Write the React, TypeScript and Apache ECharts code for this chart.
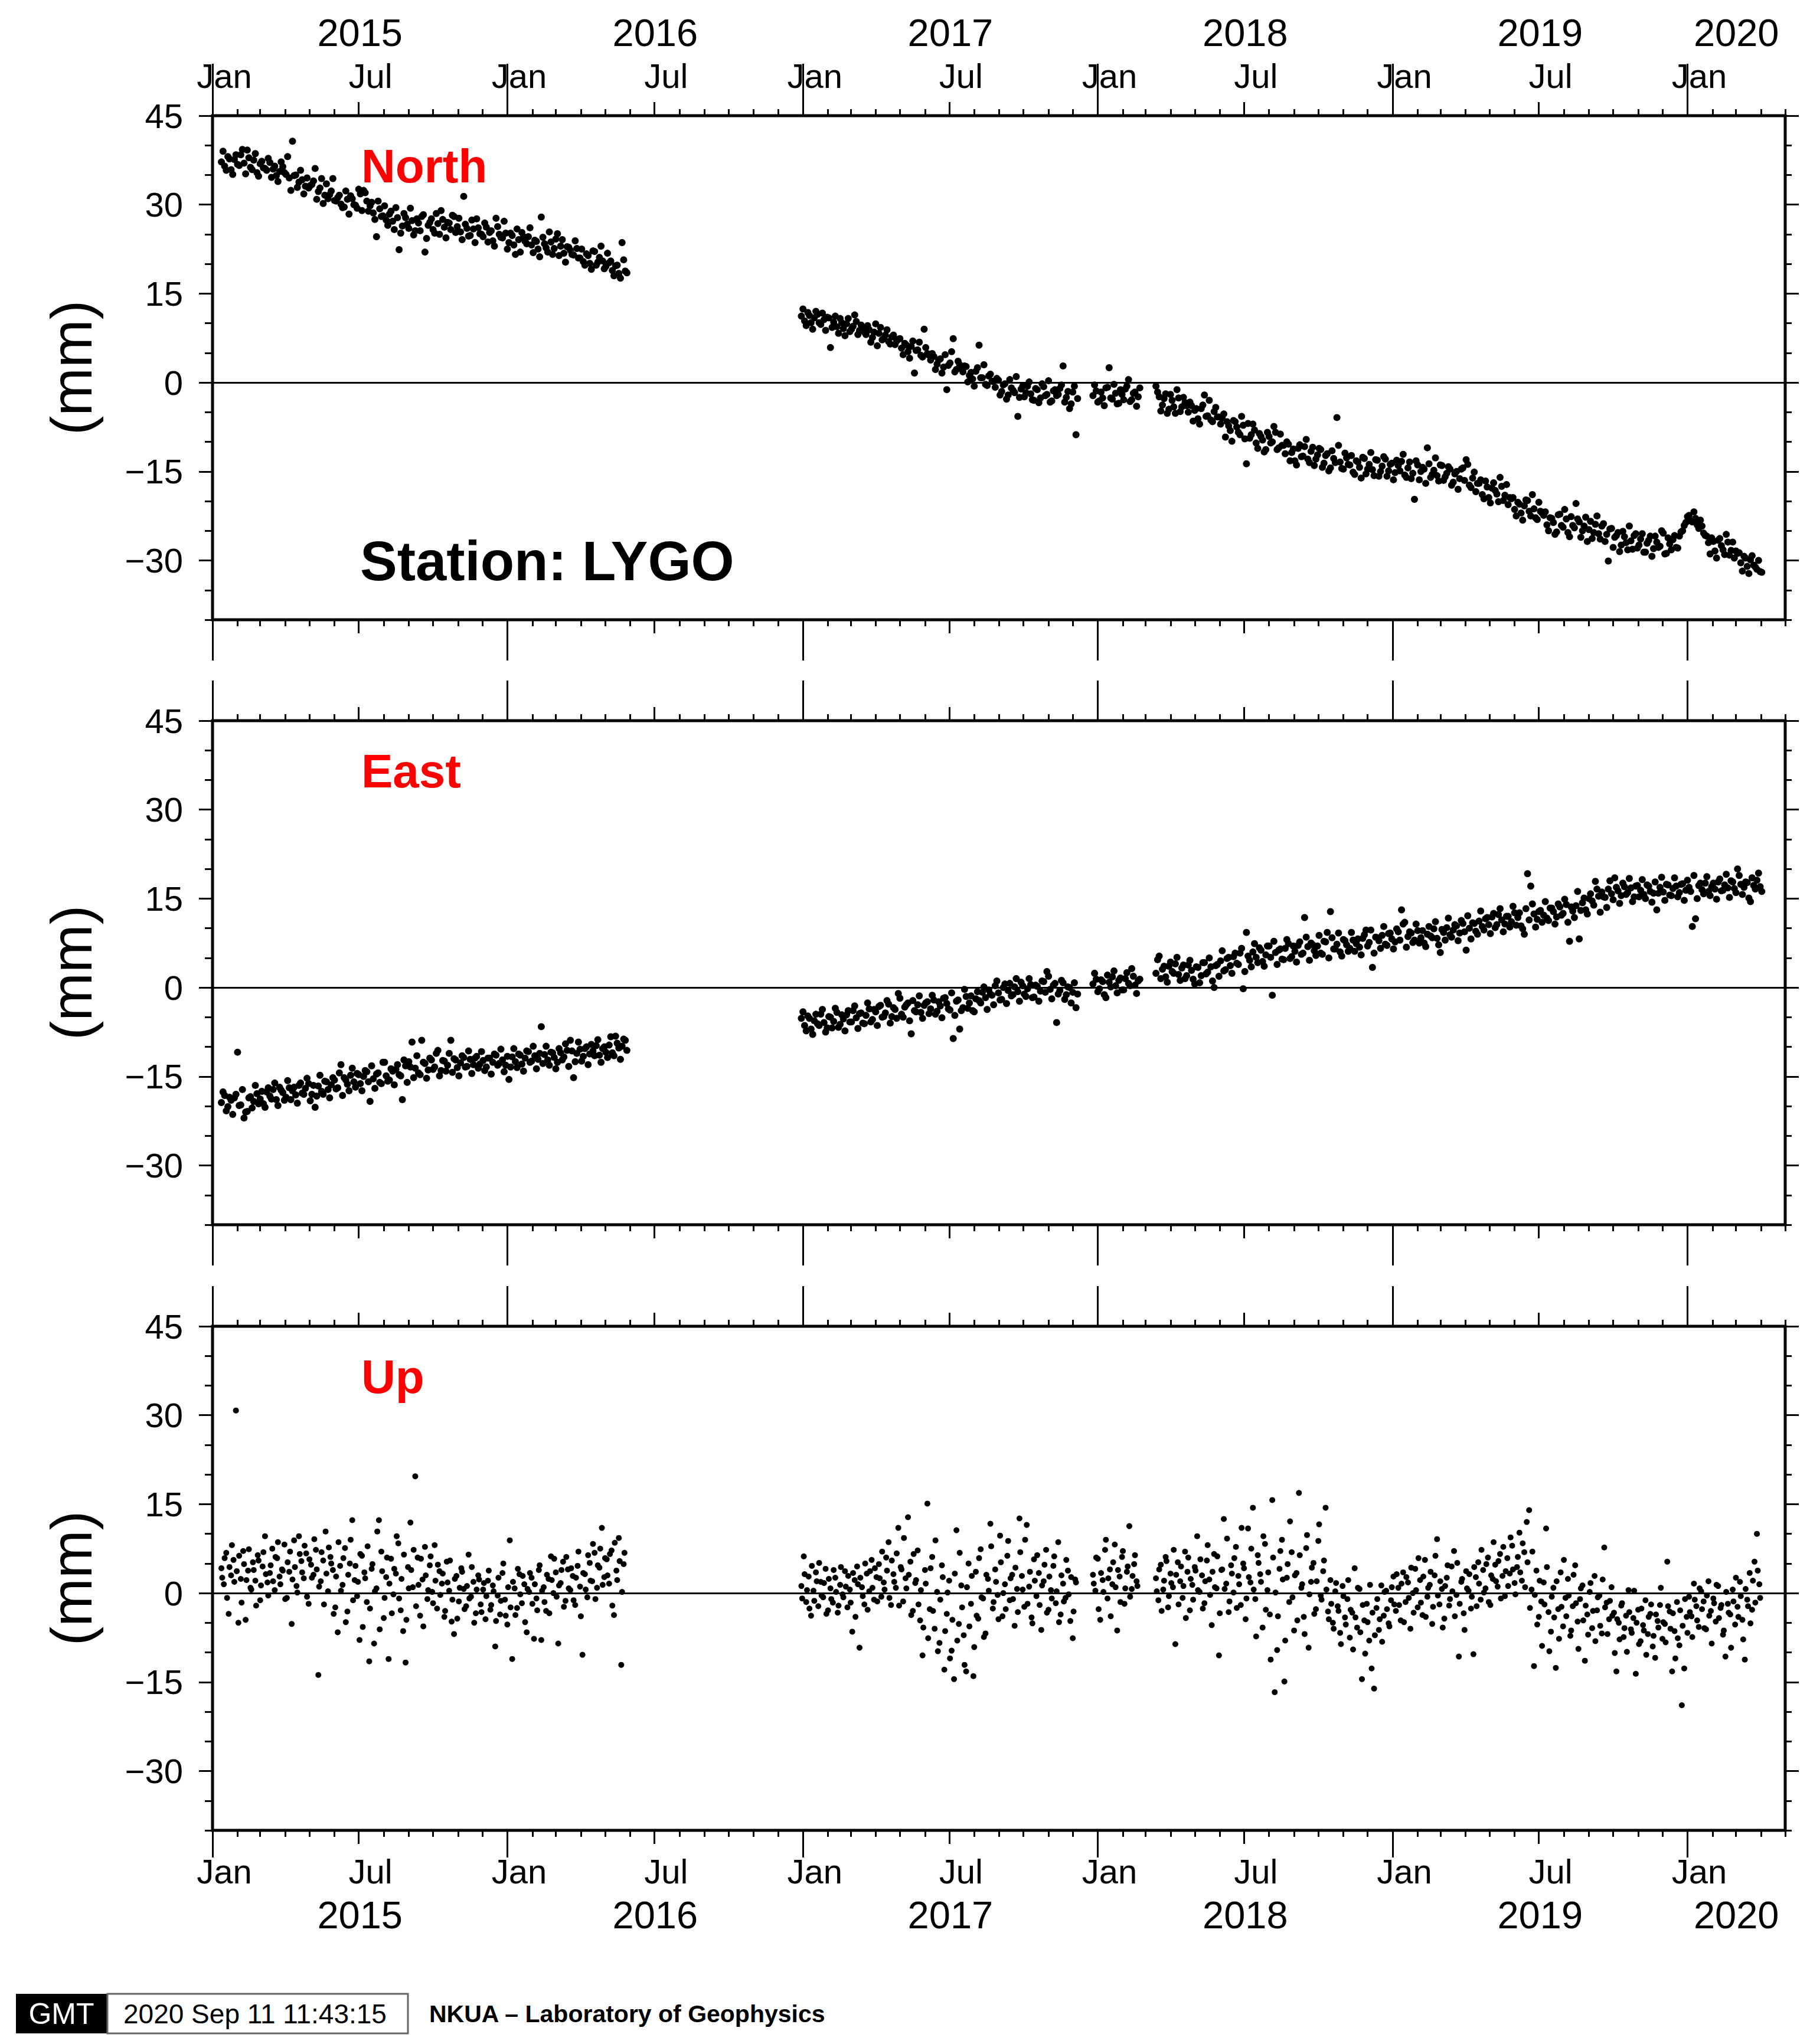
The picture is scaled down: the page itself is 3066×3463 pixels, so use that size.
import React, { useEffect, useRef } from 'react';
import * as echarts from 'echarts';

const W = 3066;
const H = 3463;
const GRID_LEFT = 360;
const GRID_RIGHT = 42;
const GRID_H = 854;
const GRID_TOPS = [196, 1221, 2247];

const T_MIN = Date.UTC(2015, 0, 1);
const T_MAX = Date.UTC(2020, 4, 1);
const DAY = 86400000;

const YEARS = [2015, 2016, 2017, 2018, 2019, 2020];
const MONTH_NAMES = ['Jan', 'Feb', 'Mar', 'Apr', 'May', 'Jun', 'Jul', 'Aug', 'Sep', 'Oct', 'Nov', 'Dec'];
const Y_MAJOR = [-30, -15, 0, 15, 30, 45];
const PANEL_TITLES = ['North', 'East', 'Up'];
const STATION = 'Station: LYGO';
const Y_NAME = '(mm)';
const STAMP = '2020 Sep 11 11:43:15';
const CREDIT = 'NKUA \u2013 Laboratory of Geophysics';

// segment start dates of the daily solutions; each component is stored as two
// interleaved sample sets (set "b" is offset by a couple of days)
const SEG_STARTS = ['2015-01-12', '2016-12-30', '2017-12-26', '2018-03-14'];
const STEP_NE = 4;
const OFFSET_NE = 2;
const STEP_UP = 3;
const OFFSET_UP = 1;

// ---------------- North (mm) ----------------
const northA = [
  37.2, 36.5, 38.1, 35.9, 37.6, 36.8, 38.4, 37.0, 39.2, 36.3, 37.5, 35.4, 36.9, 36.2,
  35.8, 37.1, 36.0, 34.9, 35.6, 36.4, 35.1, 34.5, 40.7, 35.0, 33.8, 34.2, 33.1, 32.8,
  33.4, 36.1, 32.2, 34.4, 31.6, 31.0, 32.3, 30.7, 31.2, 30.1, 29.6, 30.9, 31.5, 30.0, 29.4, 31.8,
  32.4, 30.6, 29.8, 28.6, 24.6, 29.3, 28.1, 27.4, 28.4, 27.2, 29.5, 22.4, 26.4, 27.8, 26.0,
  27.3, 25.6, 26.9, 28.0, 22.0, 26.5, 27.6, 25.2, 26.8, 29.0, 26.2, 27.0, 25.8, 28.0, 26.3,
  25.4, 31.4, 26.0, 24.8, 25.9, 27.6, 25.1, 24.6, 26.2, 25.3, 23.9, 27.7, 25.0, 24.4,
  25.2, 23.6, 24.8, 21.6, 24.1, 25.3, 23.8, 24.6, 23.2, 24.0, 22.5, 27.9, 23.4, 22.0, 23.7, 22.6,
  25.1, 23.0, 21.8, 22.9, 22.3, 21.5, 22.6, 21.0, 20.4, 21.7, 20.1, 22.2, 19.8, 21.1, 20.5, 19.6,
  20.2, 18.9, 19.7, 18.4, 23.6, 18.8,
];
const northA_b = [
  39.0, 35.8, 37.7, 35.1, 38.4, 36.6, 39.3, 35.2, 37.9, 35.9, 38.6, 34.8, 37.3, 36.1,
  37.8, 34.6, 36.5, 33.9, 37.2, 35.4, 38.1, 32.4, 34.9, 32.9, 35.8, 31.8, 34.5, 33.2,
  34.0, 30.9, 32.8, 30.2, 33.5, 31.7, 34.4, 30.6, 31.6, 29.5, 32.3, 28.4, 31.0, 29.9, 32.6, 29.0,
  32.0, 28.9, 30.4, 27.5, 30.6, 28.0, 29.8, 26.5, 28.9, 25.8, 27.8, 25.2, 28.5, 26.7, 29.4,
  24.9, 27.6, 25.6, 28.3, 24.3, 27.0, 25.8, 28.5, 25.0, 27.5, 24.4, 26.9, 28.2, 25.3, 27.7,
  24.1, 26.7, 24.7, 27.4, 23.6, 26.1, 25.0, 26.9, 23.7, 25.6, 23.0, 26.3, 24.5, 27.2,
  22.5, 25.2, 23.2, 25.9, 22.0, 24.6, 23.4, 26.1, 21.9, 23.8, 21.2, 24.5, 22.7, 25.4, 21.6, 24.2,
  21.4, 24.1, 20.3, 22.8, 21.6, 23.9, 21.0, 22.5, 19.8, 21.4, 19.1, 22.1, 20.3, 23.0, 19.2, 21.8,
  20.5, 18.0, 19.8, 17.6, 20.7, 18.5,
];
const northB1 = [
  11.2, 10.4, 11.8, 10.1, 10.9, 11.5, 9.8, 10.6, 11.0, 5.9, 10.2, 9.4, 10.8, 9.1, 9.9, 8.6, 9.5, 10.3, 8.8, 9.2,
  8.1, 8.9, 7.6, 9.9, 8.3, 7.2, 8.0, 6.9, 7.7, 6.4, 7.3, 5.8, 6.6, 5.2, 6.1, 1.6, 5.5, 4.6, 9.0, 4.9,
  3.8, 4.4, 3.1, 4.0, 2.6, -1.2, 3.3, 7.4, 2.2, 3.0, 1.8, 2.7, 1.2, 0.6, 1.9, 6.3, 0.8, -0.3, 1.1, 0.2,
  -0.8, 0.4, -1.5, -0.2, -2.1, -0.9, -1.7, -5.7, -1.1, -2.4, -0.6, -1.9, -3.0, -1.2, -2.6, -0.7, -2.0, -3.3, -1.4, -2.2,
  -1.0, 2.8, -2.5, -4.4, -1.6, -8.8,
];
const northB1_b = [
  12.4, 9.6, 11.3, 9.0, 12.0, 10.1, 11.7, 8.8, 10.9, 9.3, 11.2, 8.3, 10.1, 7.9, 10.8, 9.0, 11.4, 8.1, 9.7, 8.5,
  9.6, 6.8, 8.5, 6.2, 9.3, 7.4, 8.9, 6.5, 8.0, 7.0, 7.4, 4.7, 6.3, 4.1, 7.0, 5.4, 6.8, 4.3, 5.9, 4.6,
  4.9, 2.2, 3.8, 1.6, 4.7, 2.9, 5.2, 1.8, 3.6, 2.4, 2.8, 0.1, 1.7, -0.6, 2.5, 0.8, 3.0, -0.5, 1.4, 0.2,
  0.7, -2.1, -0.4, -2.8, 0.5, -1.3, 1.0, -2.5, -0.6, -1.7, 0.1, -2.9, -1.0, -3.4, -0.2, -2.2, 0.3, -3.1, -1.2, -2.0,
  -0.4, -3.3, -1.5, -3.6, -0.6, -2.7,
];
const northB2 = [-2.2, -1.4, -3.1, -2.6, -0.9, 2.5, -2.8, -1.8, -3.5, -2.0, -1.1, 0.5, -2.9, -1.6, -2.4];
const northB2_b = [-0.4, -3.3, -1.6, -3.9, -0.8, -2.6, -0.3, -3.6, -1.2, -2.9, -0.6, -3.2, -1.8, -4.0, -0.9];
const northB3 = [
  -0.6, -2.4, -3.8, -1.9, -4.5, -3.0, -5.2, -2.6, -4.1, -3.4, -5.0, -3.9, -4.7, -6.1, -4.4, -2.1, -5.6, -6.3, -4.9, -5.8,
  -7.0, -5.3, -6.6, -8.1, -6.4, -7.5, -8.8, -7.2, -13.7, -9.4, -7.0, -10.2, -8.6, -9.7, -11.3, -9.1, -10.0, -8.4, -11.0, -10.6,
  -12.0, -10.4, -11.8, -13.2, -11.1, -12.5, -10.8, -12.9, -11.6, -14.0, -12.2, -11.3, -13.6, -12.0, -14.4, -12.8, -5.9, -13.4, -14.6, -12.7,
  -13.9, -15.1, -13.2, -14.3, -12.6, -15.4, -13.8, -14.7, -13.0, -15.8, -14.1, -12.9, -14.9, -13.6, -15.2, -14.0, -13.3, -15.6, -14.4, -16.2,
  -19.7, -13.9, -15.0, -14.6, -11.0, -16.0, -14.8, -15.7, -13.9, -16.5, -15.3, -14.6, -16.8, -15.0, -16.2, -14.4, -13.0, -17.3, -16.1, -18.4,
  -17.0, -18.9, -16.6, -19.4, -17.8, -18.2, -20.1, -17.5, -19.0, -20.6, -19.6, -21.4, -20.2, -22.0, -20.8, -19.9, -22.5, -21.3, -23.1, -21.7,
  -22.4, -24.0, -22.8, -23.6, -25.2, -22.2, -24.4, -23.0, -26.0, -24.1, -20.4, -23.5, -25.0, -22.7, -24.8, -26.3, -23.9, -25.5, -24.2, -26.8,
  -30.1, -24.6, -26.1, -25.3, -27.4, -26.0, -28.2, -26.7, -25.8, -27.9, -26.4, -28.6, -27.1, -25.9, -28.0, -26.9, -27.6, -25.4, -28.8, -27.2,
  -26.5, -27.8, -25.9, -25.0, -23.6, -22.4, -23.5, -22.9, -24.6, -24.2, -25.8, -27.0, -26.2, -28.4, -26.6, -27.5, -29.0, -26.9, -28.3, -29.6,
  -28.8, -30.4, -29.3, -31.0, -29.9, -30.8, -31.5, -31.9,
];
const northB3_b = [
  -1.6, -4.8, -2.7, -5.2, -2.0, -4.1, -1.2, -4.9, -2.5, -3.9, -3.3, -6.5, -4.4, -7.0, -3.8, -5.7, -3.0, -6.6, -4.2, -5.8,
  -6.0, -9.2, -7.3, -9.9, -6.6, -8.4, -5.7, -9.5, -6.9, -8.8, -8.0, -11.1, -9.1, -11.7, -8.4, -10.2, -7.4, -11.3, -8.7, -10.6,
  -10.0, -13.2, -11.2, -13.9, -10.5, -12.4, -9.6, -13.5, -10.9, -12.9, -11.1, -14.3, -12.3, -14.9, -11.5, -13.5, -10.6, -14.5, -11.9, -13.8,
  -12.3, -15.5, -13.4, -16.1, -12.8, -14.6, -11.8, -15.7, -13.1, -15.0, -12.5, -15.8, -13.8, -16.4, -13.1, -14.9, -12.1, -16.0, -13.4, -15.3,
  -13.2, -16.4, -14.3, -17.0, -13.7, -15.5, -12.7, -16.6, -14.0, -15.9, -14.2, -17.3, -15.4, -18.0, -14.6, -16.5, -13.8, -17.7, -15.1, -17.0,
  -16.4, -19.6, -17.6, -20.3, -16.9, -18.8, -16.0, -19.9, -17.2, -19.4, -19.4, -22.5, -20.5, -23.2, -19.8, -21.7, -18.9, -22.8, -20.2, -22.0,
  -21.8, -25.0, -22.9, -25.6, -22.3, -24.1, -21.4, -25.3, -22.6, -24.5, -23.0, -26.1, -24.2, -26.8, -23.4, -25.3, -22.5, -26.4, -23.8, -25.6,
  -24.7, -27.8, -25.8, -28.5, -25.1, -27.0, -24.2, -28.1, -25.5, -27.4, -25.5, -28.6, -26.6, -29.3, -25.9, -27.8, -25.0, -28.9, -26.2, -28.2,
  -25.8, -27.9, -25.2, -24.1, -22.6, -23.3, -21.8, -24.0, -23.2, -25.4, -25.9, -28.9, -26.8, -29.6, -26.3, -28.2, -25.6, -29.1, -26.9, -28.4,
  -28.7, -31.8, -29.6, -32.2, -29.2, -31.1, -30.0, -32.0,
];

// ---------------- East (mm) ----------------
const eastA = [
  -19.4, -18.2, -20.1, -19.0, -18.6, -10.9, -19.8, -22.0, -20.9, -18.4, -19.2, -17.9, -18.8, -19.6, -17.6, -18.3, -17.2, -18.9, -16.8, -17.7,
  -18.5, -16.9, -17.4, -18.1, -16.5, -17.8, -17.0, -16.2, -18.0, -20.2, -16.6, -17.5, -15.8, -17.2, -16.4, -15.6, -16.9, -13.0, -15.2, -16.3,
  -14.8, -15.9, -14.5, -16.2, -15.0, -14.2, -19.2, -15.4, -14.6, -16.0, -12.6, -14.9, -15.6, -14.1, -13.8, -14.7, -18.9, -13.2, -12.5, -9.2,
  -13.6, -14.4, -8.9, -12.8, -13.9, -12.2, -13.4, -10.6, -14.0, -12.4, -13.1, -8.9, -12.0, -13.5, -12.7, -11.8, -13.3, -12.1, -13.0, -11.6,
  -12.9, -12.3, -13.4, -11.9, -12.6, -11.4, -12.8, -12.2, -13.1, -15.5, -11.7, -12.5, -11.2, -12.9, -11.9, -10.8, -12.4, -11.5, -12.1, -6.6,
  -11.3, -12.2, -10.9, -11.8, -12.6, -11.0, -11.7, -10.6, -8.9, -15.2, -11.1, -10.4, -11.6, -10.0, -11.2, -10.7, -9.8, -11.4, -10.3, -10.9,
  -9.7, -11.0, -8.2, -10.2, -9.9, -8.9,
];
const eastA_b = [
  -17.6, -20.8, -18.5, -21.4, -18.0, -19.9, -17.2, -21.0, -18.6, -20.3, -16.5, -19.6, -17.5, -20.2, -16.9, -18.8, -16.1, -19.9, -17.3, -19.0,
  -15.7, -18.9, -16.8, -19.5, -16.1, -18.0, -15.3, -19.1, -16.5, -18.3, -14.8, -18.0, -15.9, -18.6, -15.2, -17.1, -14.4, -18.2, -15.6, -17.4,
  -13.6, -16.8, -14.7, -17.4, -14.0, -15.9, -13.2, -17.0, -14.4, -16.2, -12.6, -15.8, -13.7, -16.4, -13.0, -14.9, -12.2, -16.0, -13.4, -15.2,
  -11.5, -14.7, -12.6, -15.3, -11.9, -13.8, -11.1, -14.9, -12.3, -14.1, -11.1, -14.3, -12.2, -14.9, -11.5, -13.4, -10.7, -14.5, -11.9, -13.6,
  -10.8, -14.0, -11.9, -14.6, -11.2, -13.1, -10.4, -14.2, -11.6, -13.4, -10.3, -13.5, -11.4, -14.1, -10.7, -12.6, -9.9, -13.7, -11.1, -12.8,
  -9.9, -13.1, -11.0, -13.7, -10.3, -12.2, -9.5, -13.3, -10.7, -12.5, -9.2, -12.4, -10.3, -13.0, -9.6, -11.5, -8.8, -12.6, -10.0, -11.8,
  -8.3, -11.5, -9.4, -12.1, -8.7, -10.6,
];
const eastB1 = [
  -5.2, -6.4, -4.8, -7.0, -5.6, -6.1, -4.5, -5.9, -6.8, -5.0, -5.7, -4.2, -6.2, -5.3, -4.6, -5.8, -3.9, -5.1, -4.4, -6.0,
  -4.7, -3.6, -5.4, -4.1, -3.2, -5.0, -4.3, -2.8, -4.9, -3.7, -1.0, -4.5, -3.3, -2.6, -7.8, -3.9, -2.9, -4.2, -3.0, -2.4,
  -3.6, -2.1, -4.0, -3.1, -1.8, -2.7, -3.8, -8.6, -2.3, -7.0, -3.4, -1.5, -2.6, -3.9, -1.9, -2.2, -0.8, -1.7, -0.4, -1.3,
  0.3, -0.9, -2.0, 0.6, -0.5, -1.4, 0.1, -0.7, 0.9, -1.1, -0.2, 0.5, -1.6, 0.2, -0.6, 1.0, 2.7, -0.3, 0.4, -5.9,
  -0.5, 0.8, -1.2, 0.0, -0.8, -3.4,
];
const eastB1_b = [
  -4.1, -7.3, -5.2, -7.9, -4.5, -6.4, -3.7, -7.5, -4.9, -6.8, -3.5, -6.7, -4.6, -7.3, -3.9, -5.8, -3.1, -6.9, -4.3, -6.1,
  -2.6, -5.8, -3.7, -6.4, -3.0, -4.9, -2.2, -6.0, -3.4, -5.2, -1.8, -5.0, -2.9, -5.6, -2.2, -4.1, -1.4, -5.2, -2.6, -4.4,
  -1.3, -4.5, -2.4, -5.1, -1.7, -3.6, -0.9, -4.7, -2.1, -3.9, -0.3, -3.5, -1.4, -4.1, -0.7, -2.6, 0.1, -3.7, -1.1, -2.9,
  1.1, -2.1, 0.0, -2.7, 0.7, -1.2, 1.5, -2.3, 0.3, -1.5, 1.5, -1.7, 0.4, -2.3, 1.1, -0.8, 1.9, -1.9, 0.7, -1.1,
  1.2, -2.0, 0.1, -2.6, 0.8, -1.1,
];
const eastB2 = [0.6, 1.4, -0.2, 1.0, -1.7, 0.9, 1.8, 0.3, 1.2, -0.4, 1.5, 0.7, 3.2, 0.4, 1.1];
const eastB2_b = [2.4, -0.7, 1.3, -1.2, 2.1, 0.1, 2.8, -0.9, 1.6, -0.4, 2.5, 0.3, 1.9, -1.0, 1.4];
const eastB3 = [
  2.4, 5.3, 3.1, 1.8, 3.6, 2.7, 4.0, 2.2, 3.3, 1.5, 3.8, 2.9, 0.6, 3.4, 2.0, 4.2, 2.6, 3.5, 0.0, 3.9,
  4.5, 2.8, 4.9, 3.7, 5.2, 4.1, 5.8, -0.2, 9.3, 4.6, 6.0, 5.1, 6.7, 4.4, 5.5, 7.0, -1.3, 5.9, 6.3, 4.8,
  6.6, 7.4, 5.2, 6.1, 7.1, 5.6, 11.8, 6.9, 7.5, 6.2, 7.0, 5.8, 7.8, 9.3, 12.8, 6.5, 7.3, 6.0, 8.1, 7.2,
  6.6, 8.0, 7.4, 6.8, 8.3, 9.7, 7.6, 3.4, 8.5, 7.9, 8.8, 7.3, 9.1, 8.2, 7.7, 9.4, 13.1, 11.0, 8.6, 9.2,
  8.0, 9.6, 8.4, 7.5, 9.0, 8.7, 9.9, 8.3, 5.9, 9.3, 10.1, 8.9, 9.7, 10.4, 9.2, 10.8, 6.3, 10.0, 10.9, 9.5,
  11.2, 10.3, 11.6, 10.6, 11.9, 10.1, 12.3, 11.4, 10.7, 12.0, 11.1, 12.6, 11.8, 10.4, 9.0, 19.2, 17.1, 12.4, 11.5, 13.0,
  12.2, 11.7, 13.4, 12.8, 11.9, 13.6, 12.5, 14.0, 7.8, 12.9, 13.8, 8.2, 14.3, 13.1, 15.0, 14.6, 17.9, 15.4, 16.1, 15.2,
  16.6, 15.8, 18.5, 16.3, 15.5, 17.0, 16.0, 16.8, 15.3, 17.2, 16.4, 15.7, 17.3, 16.2, 15.9, 13.1, 16.9, 16.1, 17.4, 15.6,
  16.7, 17.1, 16.0, 17.5, 16.4, 16.9, 10.3, 11.6, 17.2, 16.5, 17.6, 16.2, 17.0, 16.6, 17.8, 16.3, 17.3, 16.8, 18.0, 16.7,
  20.0, 17.4, 16.9, 17.7, 14.5, 17.2, 18.1, 17.0,
];
const eastB3_b = [
  4.7, 1.5, 3.6, 0.9, 4.3, 2.4, 5.1, 1.2, 3.8, 2.0, 4.6, 1.4, 3.5, 0.8, 4.2, 2.3, 5.0, 1.1, 3.7, 1.9,
  6.2, 3.0, 5.1, 2.4, 5.8, 3.9, 6.6, 2.7, 5.3, 3.5, 7.4, 4.2, 6.3, 3.6, 7.0, 5.1, 7.8, 3.9, 6.5, 4.7,
  8.1, 4.9, 7.0, 4.3, 7.7, 5.8, 8.5, 4.6, 7.2, 5.4, 8.8, 5.6, 7.7, 5.0, 8.4, 6.5, 9.2, 5.3, 7.9, 6.1,
  9.3, 6.1, 8.2, 5.5, 8.9, 7.0, 9.7, 5.8, 8.4, 6.6, 10.3, 7.1, 9.2, 6.5, 9.9, 8.0, 10.7, 6.8, 9.4, 7.6,
  10.7, 7.5, 9.6, 6.9, 10.3, 8.4, 11.1, 7.2, 9.8, 8.0, 11.7, 8.5, 10.6, 7.9, 11.3, 9.4, 12.1, 8.2, 10.8, 9.0,
  12.9, 9.7, 11.8, 9.1, 12.5, 10.6, 13.3, 9.4, 12.0, 10.2, 13.7, 10.5, 12.6, 9.9, 13.3, 11.4, 14.1, 10.2, 12.8, 11.0,
  14.5, 11.3, 13.4, 10.7, 14.1, 12.2, 14.9, 11.0, 13.6, 11.8, 16.2, 13.0, 15.1, 12.4, 15.8, 13.9, 16.6, 12.7, 15.3, 13.5,
  18.0, 14.8, 16.9, 14.2, 17.6, 15.7, 18.4, 14.5, 17.1, 15.3, 18.2, 15.0, 17.1, 14.4, 17.8, 15.9, 18.6, 14.7, 17.3, 15.5,
  18.5, 15.3, 17.4, 14.7, 18.1, 16.2, 18.9, 15.0, 17.6, 15.8, 18.7, 15.5, 17.6, 14.9, 18.3, 16.4, 19.1, 15.2, 17.8, 16.0,
  18.9, 15.7, 17.8, 15.1, 18.5, 16.6, 19.3, 16.2,
];

// ---------------- Up (mm) ----------------
const upA = [
  4.2, 1.5, 6.8, -3.5, 3.0, 5.6, 30.8, -5.0, 2.4, 7.1, -4.5, 3.8, 0.9, 5.2, 2.1, 6.4, -1.2, 4.5, 9.6, 1.8,
  3.4, 7.5, 0.5, 5.9, 2.8, 4.0, 8.2, -0.8, 3.6, -5.2, 8.9, 1.2, 9.6, 5.4, 2.5, 6.7, -1.8, 4.8, 3.1, 7.3,
  -13.8, 2.0, 5.5, 10.4, 0.3, 6.1, 3.9, -2.4, -6.6, 4.6, 1.4, 7.6, -3.1, 5.0, 12.3, 2.2, -0.5, -7.9, 6.3, 3.5,
  -1.5, -11.5, 4.1, -8.5, 0.8, 12.3, 7.0, -4.2, 2.7, -11.1, 5.8, -0.2, 3.3, 8.4, -2.9, -6.4, -11.7, 4.4, 11.9, 1.0,
  19.7, 6.0, -3.8, 2.3, 7.8, -1.0, 4.7, 0.2, 8.1, -2.6, 3.7, 1.6, -4.0, 5.3, 0.4, -4.8, -6.9, 2.9, -1.4, 4.2,
  0.7, -2.2, 6.5, -0.6, 1.9, -3.4, 3.0, -1.9, 0.6, -4.4, 2.1, -2.8, 1.3, -9.0, -0.4, -3.6, 3.4, -1.1, -5.3, 8.9,
  -11.1, 0.8, -2.5, 3.2, -1.7, 1.5, -6.6, 0.2, 2.6, -7.7, -0.9, 3.9, -7.9, 1.0, -3.0, 2.4, 6.2, 0.0, 3.5, -8.5,
  1.7, 5.3, -1.3, 4.0, 0.5, 2.9, -2.0, 4.6, 1.1, -10.4, 3.2, -0.7, 5.1, 2.0, 6.8, 0.9, 4.3, 11.0, 2.7, 5.7,
  1.6, 7.2, -3.7, 3.8, 9.3, -12.1, 4.9,
];
const upA_b = [
  2.6, 5.9, -0.8, 4.4, 8.1, 1.9, 3.7, 6.3, -1.6, 4.9, 2.2, 7.4, 0.6, 3.9, -2.1, 5.5, 1.3, 6.9, 3.2, -0.4,
  4.7, 2.0, 6.1, 8.6, 1.5, 3.8, -1.0, 5.2, 7.0, 2.3, 4.4, 0.1, 6.6, 3.5, 8.0, -0.6, 5.7, 2.6, 9.1, 4.0,
  1.1, 6.9, -1.9, 3.3, 7.7, 5.0, -3.5, 2.8, 8.6, 0.4, 5.9, -4.9, 3.1, 9.0, -1.2, 4.6, 1.9, 6.6, -5.7, 2.5,
  7.9, -2.6, 4.9, 0.3, 10.4, -6.1, 3.7, -0.8, 6.0, 1.6, -3.4, 4.1, 9.6, -0.9, 2.4, 6.5, -4.5, 0.8, 3.9, 7.3,
  -2.2, 1.4, 5.8, -5.6, 3.0, 0.5, 6.2, -1.7, 2.1, 4.8, -0.3, 3.3, -3.0, 1.8, 5.5, -1.1, 2.4, -4.3, 0.9, 3.6,
  -2.7, 1.2, -0.9, 4.4, -5.0, 0.6, 2.3, -3.2, 1.7, -0.5, 3.8, -2.0, 0.3, -4.7, 2.6, -1.3, 5.0, -3.8, 1.0, -2.4,
  1.9, -3.7, 4.1, -0.2, 2.9, -4.9, 0.7, 3.4, -1.8, 1.5, -2.9, 4.7, 0.4, -1.5, 3.1, -3.4, 2.2, 5.8, -0.6, 1.3,
  3.9, -2.3, 6.1, 0.8, 4.2, -1.2, 2.6, 7.0, -3.9, 3.4, 0.6, 6.4, 2.1, 8.3, -1.0, 4.7, 7.5, 1.4, 5.9, 3.0,
  6.6, -2.1, 8.5, 2.2, 5.4, 0.2, 6.8,
];
const upB1 = [
  1.2, 6.2, -1.5, 2.8, -3.8, 0.4, 3.5, -2.2, 1.9, -0.7, 4.1, -2.9, 0.8, -1.6, 2.6, -3.3, 1.4, -0.2, 3.7, -2.4,
  0.6, -6.5, 2.2, 4.5, -9.2, 1.0, -1.9, 3.3, 0.3, 5.6, -1.1, 2.7, 4.9, -0.6, 1.8, 6.0, 8.6, -2.0, 3.2, 0.9,
  11.0, 4.4, -1.4, 2.5, 12.8, 5.3, -3.0, 1.7, 7.2, -4.6, -10.5, 3.9, 15.1, -2.7, 6.1, -6.0, 0.2, -8.4, 4.7, -12.9,
  -3.5, 2.1, -9.7, -14.5, 10.6, -5.2, 1.3, -7.1, -13.2, 5.0, -1.8, -14.0, 3.6, -4.3, 7.4, -0.9, -6.8, 2.4, 11.7, -2.6,
  4.0, -0.3, 9.7, -3.9, 1.5, 6.3, -1.2, 3.1, -5.5, 0.7, 12.6, 2.9, -2.3, 11.5, 1.1, -4.1, 5.7, -0.5, 3.4, -6.2,
  2.0, 7.3, -2.8, 0.5, 4.6, -1.7, 8.6, -3.6, 1.6, -0.8, 3.8, -4.7, -7.6, 2.3,
];
const upB1_b = [
  -0.9, 3.2, 0.5, -2.6, 4.6, -1.3, 2.0, 5.1, -0.4, 1.7, -3.5, 2.4, -1.0, 3.9, 0.2, -2.1, 4.4, -0.7, 1.1, 2.9,
  -1.6, 3.4, -4.0, 1.5, 2.6, -0.5, 5.0, -2.8, 3.7, 0.9, 4.2, -1.4, 2.5, 7.0, 0.6, 3.8, -0.8, 5.5, 1.9, 6.7,
  -2.1, 4.0, 9.3, 0.8, 3.1, -3.7, 6.6, 2.2, -1.9, 0.5, -5.8, 1.6, -7.6, 4.2, -3.0, 8.9, -9.8, -1.1, 2.7, -6.4,
  0.1, -11.0, -4.5, 3.3, -8.0, 6.8, -2.4, -12.1, 1.0, -5.6, 2.9, -9.1, -3.8, 5.9, -0.7, -7.4, 3.1, 0.4, 7.9, -1.5,
  1.9, -4.4, 5.2, 0.0, -2.7, 8.8, 2.5, -1.0, 4.3, -3.2, 6.9, 0.6, 9.0, -1.8, 3.6, -5.1, 2.1, 6.4, -2.0, 1.3,
  4.8, -3.3, 2.8, -0.9, 6.2, 0.3, -4.9, 3.0, -1.4, 5.6, -0.2, 2.7, -3.1, 1.8,
];
const upB2 = [3.1, 0.4, 5.8, -4.5, 2.2, 7.3, -0.9, 4.0, 1.5, 8.2, -6.3, 2.8, 6.1, -1.8, 3.6, 11.3, 0.7, 4.9, 2.0];
const upB2_b = [1.6, 6.0, -2.7, 3.4, 0.2, 9.0, 2.5, -3.9, 5.2, 1.0, 3.9, -1.5, 7.1, 0.8, 4.5, -0.6, 2.9, 6.4, 1.2];
const upB3 = [
  2.5, -1.2, 4.8, 0.6, 6.1, -2.4, 3.3, 1.0, -8.6, 5.2, 2.0, -0.8, 7.0, 3.6, -2.9, 1.4, 4.4, 9.6, 0.2, 3.0,
  -1.7, 5.5, 2.3, -5.4, 6.6, 0.8, -10.5, 3.9, 12.5, 1.6, -3.2, 4.7, 0.1, 7.8, 2.9, -2.0, 5.0, -4.4, 10.9, 1.8,
  14.4, -1.0, 6.4, 3.2, -5.8, 8.3, 0.5, -3.6, 15.7, -16.7, -9.6, 4.1, 9.0, -14.9, 2.6, -1.5, 6.9, -6.3, 3.4, 16.9,
  0.9, -4.0, 7.6, -9.2, 1.9, 5.1, -2.7, 8.8, -0.4, 3.7, 14.4, -3.1, 2.2, -5.0, 0.3, -2.2, -6.7, 1.2, -4.1, -1.0,
  -7.5, -3.3, 4.2, -5.8, 0.7, -14.5, -4.6, -1.8, -8.0, -12.7, -16.1, -2.5, -6.2, 1.3, -3.8, 0.4, -5.1, -1.2, 2.8, -3.0,
  0.9, -4.6, 3.5, -1.5, 1.8, -6.0, 0.0, 4.1, -2.4, 2.2, -3.7, 5.6, -0.6, 1.4, -5.2, 3.0, 9.1, -1.9, 0.7, -4.3,
  2.6, -2.1, 4.5, 7.1, -0.3, -10.7, 1.9, -3.4, 3.7, 0.4, -2.6, -10.3, 2.7, 5.2, -1.1, 3.9, 0.8, 6.0, -2.0, 2.4,
  4.8, 1.1, 6.6, 2.9, -0.5, 5.9, 3.3, 8.0, 1.7, 4.4, 10.2, 2.1, 6.9, 12.0, 14.0, 0.6, -12.3, 3.8, -4.0, -1.4,
  1.8, 10.9, -3.2, -6.5, 0.9, -12.6, -2.7, 3.5, -5.6, -0.8, 2.4, -7.2, -2.2, 4.7, -4.8, -1.0, 1.3, -11.4, -3.6, 0.2,
  -5.9, 2.9, -2.9, -0.4, -6.8, 7.7, -1.6, -4.4, 1.0, -3.3, -13.2, -5.0, -2.1, -7.4, -3.8, 0.5, -6.1, -4.2, -13.6, -2.8,
  -8.1, -5.4, -1.2, -6.9, -3.5, -9.0, -10.9, -4.7, -2.0, -7.7, -5.2, 5.3, -3.1, -13.2, -6.4, -1.5, -8.8, -18.9, -12.7, -4.0,
  -0.6, -3.9, 1.6, -2.2, -5.7, 0.3, -1.4, -6.1, 2.0, -3.0, -0.9, -4.8, 1.2, -2.5, -7.0, -10.7, -1.8, -3.6, 0.6, -5.3,
  -2.3, 1.9, -4.5, -11.2, -1.1, 3.4, -2.8, 5.3, 10.0, 1.5,
];
const upB3_b = [
  0.3, 4.0, -3.0, 2.1, 5.4, -0.5, 1.7, 7.3, 3.1, -1.9, 4.5, 1.2, -4.2, 6.0, 2.4, -1.1, 3.8, 0.5, 5.7, -2.6,
  2.0, 8.1, -0.3, 3.6, 1.0, 6.2, -3.4, 4.0, 0.7, 9.2, -1.4, 3.3, 5.9, -2.5, 1.5, 11.0, 4.2, -0.9, 2.7, 7.5,
  0.6, -7.3, 5.1, 1.9, 9.6, -2.8, 3.5, -11.2, 6.0, 0.1, -3.9, 7.1, 2.3, -8.0, 4.9, 12.1, -0.7, 3.0, -4.6, 6.4,
  1.5, -6.9, 9.8, -0.2, 4.3, -3.5, 2.0, 11.6, -1.1, 5.5, 0.6, -4.4, -1.8, -6.0, 1.7, -3.0, -8.6, -0.5, -5.3, 2.2,
  -2.8, -9.5, -4.1, 0.9, -6.6, -2.0, -10.2, -4.9, 1.4, -3.3, -7.1, -1.0, -4.4, -8.2, 0.2, -2.7, -5.6, 1.0, -1.9, 3.2,
  -2.0, 1.6, -4.9, 2.7, -0.8, 4.3, -3.3, 0.5, 5.9, -1.6, 2.8, -4.0, 0.9, 3.6, -2.3, 6.3, -0.4, 2.0, -5.8, 1.2,
  4.7, -1.0, 0.3, -3.9, 5.1, -1.8, 2.4, -6.2, 0.8, 3.2, -0.6, 4.4, -2.2, 1.6, 7.3, 0.1, 4.9, -1.5, 3.0, 8.6,
  2.0, 5.4, -0.9, 7.8, 3.7, 1.2, 9.4, 4.0, -0.2, 6.1, 3.5, 8.4, 1.0, 5.2, -2.5, 7.0, -0.3, -5.3, 2.1, -8.9,
  -1.9, 4.4, -9.8, -0.6, -4.1, 2.0, -7.7, -2.3, 5.6, -3.9, -0.4, -6.3, 3.1, -1.7, -9.4, 0.8, -4.6, -2.1, -7.0, 1.7,
  -3.0, -8.1, -0.7, -5.5, 2.3, -2.4, -6.9, -1.3, -3.8, -10.1, -4.4, -7.8, -1.7, -5.9, -9.9, -3.2, -6.7, 0.4, -5.0, -8.6,
  -2.6, -6.3, -10.4, -4.0, -1.9, -7.2, -3.6, -5.8, 0.9, -4.9, -8.3, -2.2, -6.0, -3.4, -11.0, -7.6, -2.9, -5.5, -1.0, -6.7,
  -3.2, -7.4, -1.1, -4.6, 0.8, -2.7, -5.9, -0.4, -3.8, -8.5, -1.7, 1.4, -4.2, -2.0, -6.3, 0.2, -3.3, -9.2, -1.4, 2.6,
  -4.0, -0.5, -7.8, 0.7, -2.2, -5.1, 2.1, -1.6, 3.8, -0.8,
];

const PANELS = [
  { step: STEP_NE, offset: OFFSET_NE, size: 12, main: [northA, northB1, northB2, northB3], alt: [northA_b, northB1_b, northB2_b, northB3_b] },
  { step: STEP_NE, offset: OFFSET_NE, size: 12, main: [eastA, eastB1, eastB2, eastB3], alt: [eastA_b, eastB1_b, eastB2_b, eastB3_b] },
  { step: STEP_UP, offset: OFFSET_UP, size: 10, main: [upA, upB1, upB2, upB3], alt: [upA_b, upB1_b, upB2_b, upB3_b] },
];

function buildPoints(step: number, offsetDays: number, segs: number[][]) {
  const out: [number, number][] = [];
  segs.forEach((vals, k) => {
    const t0 = Date.parse(SEG_STARTS[k] + 'T00:00:00Z') + offsetDays * DAY;
    vals.forEach((v, i) => out.push([t0 + i * step * DAY, v]));
  });
  return out;
}

const FONT = 'Liberation Sans, Arial, Helvetica, sans-serif';

export default function App() {
  const ref = useRef<HTMLDivElement>(null);

  useEffect(() => {
    if (!ref.current) return;
    const chart = echarts.init(ref.current, null, { renderer: 'svg', width: W, height: H });

    const monthTicks: number[] = [];
    YEARS.forEach((y) => {
      for (let m = 0; m < 12; m++) {
        const t = Date.UTC(y, m, 1);
        if (t <= T_MAX) monthTicks.push(t);
      }
    });
    const janTicks = YEARS.map((y) => Date.UTC(y, 0, 1));
    const julTicks = YEARS.map((y) => Date.UTC(y, 6, 1)).filter((t) => t <= T_MAX);
    const monthLabelPos = [...janTicks, ...julTicks].sort((a, b) => a - b);
    const yearLabelPos = YEARS.map((y) => {
      const a = Math.max(Date.UTC(y, 0, 1), T_MIN);
      const b = Math.min(Date.UTC(y + 1, 0, 1), T_MAX);
      return (a + b) / 2;
    });

    const tickLine = { color: '#000', width: 3 };
    const grids: any[] = [];
    const xAxes: any[] = [];
    const yAxes: any[] = [];
    const series: any[] = [];

    const xBase = {
      type: 'value', min: T_MIN, max: T_MAX,
      splitLine: { show: false }, axisLine: { show: false, onZero: false },
    };
    const tickAxis = (g: number, position: string, values: number[], length: number) => ({
      ...xBase, gridIndex: g, position,
      axisTick: { show: true, customValues: values, length, lineStyle: tickLine },
      axisLabel: { show: false },
    });
    const labelAxis = (g: number, position: string, values: number[], fmt: (v: number) => string,
      margin: number, fontSize: number, padding: number[]) => ({
      ...xBase, gridIndex: g, position,
      axisTick: { show: false },
      axisLabel: {
        show: true, customValues: values, formatter: fmt, margin, fontSize,
        fontFamily: FONT, color: '#000', align: 'center', verticalAlign: 'middle',
        padding, showMinLabel: true, showMaxLabel: true,
      },
    });
    const monthFmt = (v: number) => MONTH_NAMES[new Date(v).getUTCMonth()];
    const yearFmt = (v: number) => String(new Date(v).getUTCFullYear());
    const yFmt = (v: number) => (v < 0 ? '\u2212' + Math.abs(v) : String(v));

    GRID_TOPS.forEach((top, g) => {
      grids.push({
        left: GRID_LEFT, right: GRID_RIGHT, top, height: GRID_H,
        show: true, borderColor: '#000', borderWidth: 5, backgroundColor: 'transparent',
      });
      const dataX = xAxes.length;
      xAxes.push({ ...xBase, gridIndex: g, show: false });
      xAxes.push(tickAxis(g, 'top', monthTicks, 11));
      xAxes.push(tickAxis(g, 'top', julTicks, 23));
      xAxes.push(tickAxis(g, 'top', janTicks, g === 0 ? 88 : 68));
      xAxes.push(tickAxis(g, 'bottom', monthTicks, 11));
      xAxes.push(tickAxis(g, 'bottom', julTicks, 23));
      xAxes.push(tickAxis(g, 'bottom', janTicks, g === 2 ? 46 : 69));
      if (g === 0) {
        xAxes.push(labelAxis(g, 'top', monthLabelPos, monthFmt, 68, 58, [0, 0, 0, 40]));
        xAxes.push(labelAxis(g, 'top', yearLabelPos, yearFmt, 141, 65, [0, 0, 0, 0]));
      }
      if (g === 2) {
        xAxes.push(labelAxis(g, 'bottom', monthLabelPos, monthFmt, 69, 58, [0, 0, 0, 40]));
        xAxes.push(labelAxis(g, 'bottom', yearLabelPos, yearFmt, 143, 65, [0, 0, 0, 0]));
      }

      const dataY = yAxes.length;
      const yBase = { type: 'value', gridIndex: g, min: -40, max: 45, interval: 5, splitLine: { show: false }, axisLine: { show: false, onZero: false } };
      yAxes.push({ ...yBase, position: 'left', axisTick: { show: true, length: 13, lineStyle: tickLine }, axisLabel: { show: false } });
      yAxes.push({
        ...yBase, position: 'left',
        axisTick: { show: true, customValues: Y_MAJOR, length: 23, lineStyle: tickLine },
        axisLabel: { show: true, customValues: Y_MAJOR, formatter: yFmt, margin: 50, fontSize: 58, fontFamily: FONT, color: '#000', verticalAlign: 'middle' },
      });
      yAxes.push({ ...yBase, position: 'right', axisTick: { show: true, length: 11, lineStyle: tickLine }, axisLabel: { show: false } });
      yAxes.push({
        ...yBase, position: 'right',
        axisTick: { show: true, customValues: Y_MAJOR, length: 23, lineStyle: tickLine },
        axisLabel: { show: false },
      });

      const p = PANELS[g];
      const data = [...buildPoints(p.step, 0, p.main), ...buildPoints(p.step, p.offset, p.alt)];
      series.push({
        type: 'scatter',
        xAxisIndex: dataX,
        yAxisIndex: dataY,
        data,
        symbol: 'circle',
        symbolSize: p.size,
        itemStyle: { color: '#000', opacity: 1 },
        silent: true,
        markLine: {
          silent: true,
          symbol: ['none', 'none'],
          label: { show: false },
          lineStyle: { color: '#000', width: 3, type: 'solid', opacity: 1 },
          data: [{ yAxis: 0 }],
        },
      });
    });

    const graphic: any[] = [];
    GRID_TOPS.forEach((top, g) => {
      graphic.push({
        type: 'text', x: 612, y: top + 85,
        style: { text: PANEL_TITLES[g], fill: '#ff0000', fontSize: 80, fontWeight: 'bold', fontFamily: FONT, align: 'left', verticalAlign: 'middle' },
      });
      graphic.push({
        type: 'text', x: 121, y: top + GRID_H / 2, rotation: Math.PI / 2,
        style: { text: Y_NAME, fill: '#000', fontSize: 98, fontFamily: FONT, align: 'center', verticalAlign: 'middle' },
      });
    });
    graphic.push({
      type: 'text', x: 610, y: 950,
      style: { text: STATION, fill: '#000', fontSize: 94, fontWeight: 'bold', fontFamily: FONT, align: 'left', verticalAlign: 'middle' },
    });
    // footer
    graphic.push({ type: 'rect', shape: { x: 27, y: 3378, width: 155, height: 67 }, style: { fill: '#000' } });
    graphic.push({
      type: 'text', x: 104, y: 3412,
      style: { text: 'GMT', fill: '#fff', fontSize: 50, fontFamily: FONT, align: 'center', verticalAlign: 'middle' },
    });
    graphic.push({ type: 'rect', shape: { x: 182, y: 3378, width: 509, height: 67 }, style: { fill: '#fff', stroke: '#666', lineWidth: 3 } });
    graphic.push({
      type: 'text', x: 209, y: 3412,
      style: { text: STAMP, fill: '#000', fontSize: 46, fontFamily: FONT, align: 'left', verticalAlign: 'middle' },
    });
    graphic.push({
      type: 'text', x: 727, y: 3412,
      style: { text: CREDIT, fill: '#000', fontSize: 41, fontWeight: 'bold', fontFamily: FONT, align: 'left', verticalAlign: 'middle' },
    });

    chart.setOption({
      animation: false,
      backgroundColor: '#fff',
      textStyle: { fontFamily: FONT },
      grid: grids,
      xAxis: xAxes,
      yAxis: yAxes,
      series,
      graphic,
    });

    return () => chart.dispose();
  }, []);

  return (
    <div
      ref={ref}
      style={{ position: 'absolute', left: 0, top: 0, width: W, height: H, background: '#fff' }}
    />
  );
}
